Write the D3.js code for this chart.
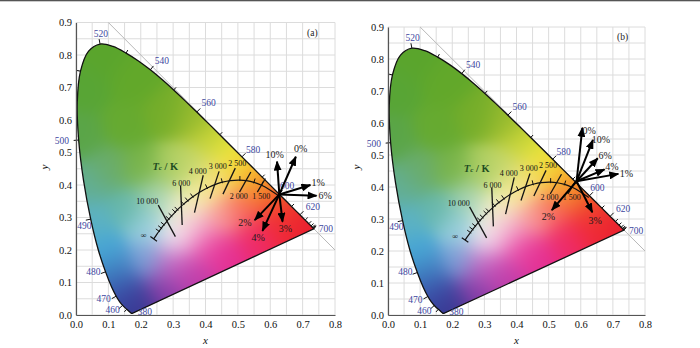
<!DOCTYPE html>
<html><head><meta charset="utf-8">
<script src="https://cdn.jsdelivr.net/npm/d3@7"></script>
<style>body{margin:0;background:#fff}svg{display:block}</style>
</head><body>
<svg id="c" width="700" height="348"></svg>
<script>
// ---- CIE 1931 spectral locus (5 nm) ----
const wavelengths = [380,385,390,395,400,405,410,415,420,425,430,435,440,445,450,455,460,465,470,475,480,485,490,495,500,505,510,515,520,525,530,535,540,545,550,555,560,565,570,575,580,585,590,595,600,605,610,615,620,625,630,635,640,645,650,655,660,665,670,680,690,700];
const locusX = [0.1741,0.1740,0.1738,0.1736,0.1733,0.1730,0.1726,0.1721,0.1714,0.1703,0.1689,0.1669,0.1644,0.1611,0.1566,0.1510,0.1440,0.1355,0.1241,0.1096,0.0913,0.0687,0.0454,0.0235,0.0082,0.0039,0.0139,0.0389,0.0743,0.1142,0.1547,0.1929,0.2296,0.2658,0.3016,0.3373,0.3731,0.4087,0.4441,0.4788,0.5125,0.5448,0.5752,0.6029,0.6270,0.6482,0.6658,0.6801,0.6915,0.7006,0.7079,0.7140,0.7190,0.7230,0.7260,0.7283,0.7300,0.7311,0.7320,0.7334,0.7344,0.7347];
const locusY = [0.0050,0.0050,0.0049,0.0049,0.0048,0.0048,0.0048,0.0048,0.0051,0.0058,0.0069,0.0086,0.0109,0.0138,0.0177,0.0227,0.0297,0.0399,0.0578,0.0868,0.1327,0.2007,0.2950,0.4127,0.5384,0.6548,0.7502,0.8120,0.8338,0.8262,0.8059,0.7816,0.7543,0.7243,0.6923,0.6589,0.6245,0.5896,0.5547,0.5202,0.4866,0.4544,0.4242,0.3965,0.3725,0.3514,0.3340,0.3197,0.3083,0.2993,0.2920,0.2859,0.2809,0.2770,0.2740,0.2717,0.2700,0.2689,0.2680,0.2666,0.2656,0.2653];
const tickWavelengths = [450,460,470,480,490,500,510,520,530,540,550,560,570,580,590,600,610,620,630,640,650,660,670,680,690,700];
const labelWavelengths = [380,460,470,480,490,500,520,540,560,580,600,620,700];
const wlLabelX = [0.213,0.113,0.085,0.054,0.026,-0.044,0.077,0.265,0.41,0.547,0.652,0.732,0.772];
const wlLabelY = [0.008,0.014,0.048,0.133,0.275,0.535,0.865,0.781,0.651,0.509,0.398,0.331,0.264];

// ---- Planckian locus ----
const planckT = [1200,1500,1600,1800,2000,2200,2500,2800,3000,3500,4000,4500,5000,5500,6000,6500,7000,8000,9000,10000,12000,15000,20000,30000,Infinity];
const planckX = [0.6250,0.5857,0.5732,0.5496,0.5267,0.5062,0.4770,0.4517,0.4369,0.4053,0.3805,0.3608,0.3451,0.3325,0.3221,0.3135,0.3064,0.2952,0.2869,0.2807,0.2719,0.2637,0.2565,0.2501,0.2399];
const planckY = [0.3674,0.3931,0.3993,0.4081,0.4133,0.4152,0.4137,0.4086,0.4041,0.3907,0.3768,0.3636,0.3516,0.3411,0.3318,0.3237,0.3166,0.3048,0.2956,0.2884,0.2778,0.2673,0.2577,0.2489,0.2342];
const planckTickT = [1600,1800,2200,2800,3500,4500,5000,5500,6500,7000,8000,9000,12000,15000,20000];

// ---- isotemperature lines ----
const isoLabels = ["10 000","6 000","4 000","3 000","2 500","2 000","1 500"];
const isoX1 = [0.254,0.323,0.393,0.442,0.492,0.540,0.585];
const isoY1 = [0.338,0.398,0.430,0.442,0.452,0.440,0.420];
const isoX2 = [0.307,0.328,0.366,0.414,0.454,0.505,0.560];
const isoY2 = [0.241,0.277,0.315,0.358,0.372,0.378,0.378];
const isoLabelX = [0.22,0.325,0.376,0.438,0.498,0.503,0.572];
const isoLabelY = [0.35,0.406,0.441,0.457,0.466,0.366,0.366];

// ---- axis ticks ----
const xTicks = [0,0.1,0.2,0.3,0.4,0.5,0.6,0.7,0.8];
const yTicks = [0,0.1,0.2,0.3,0.4,0.5,0.6,0.7,0.8,0.9];

// ---- arrows, panel (a) ----
const arrowLabelsA = ["10%","0%","1%","6%","3%","4%","2%"];
const arrowOriginA = [0.628,0.371];
const arrowTipXA = [0.621,0.679,0.724,0.743,0.638,0.576,0.552];
const arrowTipYA = [0.472,0.487,0.400,0.367,0.287,0.259,0.292];
const arrowLabXA = [0.614,0.694,0.748,0.770,0.647,0.563,0.522];
const arrowLabYA = [0.495,0.513,0.408,0.367,0.267,0.239,0.285];
// ---- arrows, panel (b) ----
const arrowLabelsB = ["0%","10%","6%","4%","1%","2%","3%"];
const arrowOriginB = [0.587,0.418];
const arrowTipXB = [0.605,0.638,0.653,0.674,0.717,0.510,0.636];
const arrowTipYB = [0.585,0.547,0.490,0.455,0.441,0.328,0.321];
const arrowLabXB = [0.626,0.663,0.676,0.697,0.742,0.499,0.645];
const arrowLabYB = [0.578,0.549,0.499,0.463,0.443,0.309,0.295];

// ---- colour anchors for the gamut fill ----
const fillAnchorX = [0.08,0.03,0.18,0.02,0.15,0.28,0.36,0.42,0.48,0.52,0.56,0.60,0.65,0.71,0.62,0.55,0.46,0.36,0.27,0.19,0.15,0.12,0.09,0.05,0.04,0.10,0.20,0.25,0.22,0.31,0.33,0.38,0.44,0.37,0.45,0.52,0.40,0.30,0.22,0.30,0.36,0.16];
const fillAnchorY = [0.80,0.70,0.72,0.55,0.58,0.62,0.60,0.54,0.49,0.45,0.41,0.37,0.33,0.28,0.28,0.24,0.19,0.13,0.08,0.03,0.07,0.13,0.20,0.29,0.40,0.45,0.45,0.36,0.27,0.235,0.32,0.38,0.42,0.265,0.30,0.33,0.21,0.16,0.17,0.45,0.46,0.33];
const fillAnchorC = ["#5aa52c","#58a535","#62a82a","#5aa548","#66aa30","#74ad2a","#98bb2e","#c8d436","#ecea3a","#f6cc30","#f5a028","#f27028","#ee3a2a","#ea2030","#f02838","#ee2a6a","#e42e92","#c03aa8","#8a3ca8","#37358f","#3a4ea8","#3d7ec0","#48a8d6","#5cb2c4","#62ae96","#6aac6a","#78b448","#a8d4b4","#98d0e0","#f8f6f8","#f4f2d0","#f8f0a0","#f8dc78","#f2b8d8","#f89c98","#f86a58","#ec4aa8","#c862c2","#7aa2d8","#a8cc60","#c8d870","#64b6aa"];

const panels = [
  {tag:"(a)", left:76, right:335, top:22.5, bottom:315, labels:arrowLabelsA, origin:arrowOriginA, tx:arrowTipXA, ty:arrowTipYA, lx:arrowLabXA, ly:arrowLabYA},
  {tag:"(b)", left:388, right:645, top:27, bottom:315, labels:arrowLabelsB, origin:arrowOriginB, tx:arrowTipXB, ty:arrowTipYB, lx:arrowLabXB, ly:arrowLabYB}
];

const svg = d3.select("#c");
svg.append("rect").attr("width",700).attr("height",348).attr("fill","#fff");
svg.append("rect").attr("width",700).attr("height",1.3).attr("fill","#555");

const defs = svg.append("defs");
defs.append("marker").attr("id","ah").attr("viewBox","0 0 10 8").attr("refX",9).attr("refY",4)
  .attr("markerWidth",10).attr("markerHeight",8).attr("markerUnits","userSpaceOnUse").attr("orient","auto")
  .append("path").attr("d","M0,0L10,4L0,8Z").attr("fill","#000");

const anchors = fillAnchorC.map((c,i)=>{const r=d3.rgb(c);return {x:fillAnchorX[i],y:fillAnchorY[i],r:r.r,g:r.g,b:r.b};});
const SIG2 = 2*0.045*0.045;

const serif = "'Liberation Serif','Times New Roman',serif";

panels.forEach((p,k)=>{
  const g = svg.append("g");
  const x = d3.scaleLinear().domain([0,0.8]).range([p.left,p.right]);
  const y = d3.scaleLinear().domain([0,0.9]).range([p.bottom,p.top]);

  // grid
  g.append("g").selectAll("line").data(x.ticks(16)).join("line")
    .attr("x1",d=>x(d)).attr("x2",d=>x(d)).attr("y1",p.top).attr("y2",p.bottom)
    .attr("stroke","#dcdcdc").attr("stroke-width",1);
  g.append("g").selectAll("line").data(y.ticks(18)).join("line")
    .attr("y1",d=>y(d)).attr("y2",d=>y(d)).attr("x1",p.left).attr("x2",p.right)
    .attr("stroke","#dcdcdc").attr("stroke-width",1);

  // diagonal x+y=1
  g.append("line").attr("x1",x(0.1)).attr("y1",y(0.9)).attr("x2",x(0.8)).attr("y2",y(0.2))
    .attr("stroke","#b8b8b8").attr("stroke-width",1);

  // locus path
  const pts = wavelengths.map((w,i)=>[locusX[i],locusY[i]]);
  const locusD = d3.line().x(d=>x(d[0])).y(d=>y(d[1])).curve(d3.curveCatmullRom)(pts) + "Z";
  defs.append("clipPath").attr("id","clip"+k).append("path").attr("d",locusD);

  // fill image
  const W = Math.ceil(p.right-p.left), H = Math.ceil(p.bottom-p.top);
  const cv = document.createElement("canvas"); cv.width=W; cv.height=H;
  const ctx = cv.getContext("2d"); const img = ctx.createImageData(W,H);
  for(let j=0;j<H;j++){
    const dy = y.invert(p.top+j+0.5);
    for(let i=0;i<W;i++){
      const dx = x.invert(p.left+i+0.5);
      let sw=0,sr=0,sg=0,sb=0;
      for(const a of anchors){
        const d2=(dx-a.x)*(dx-a.x)+(dy-a.y)*(dy-a.y);
        const w=Math.exp(-d2/SIG2)+1e-30;
        sw+=w; sr+=w*a.r; sg+=w*a.g; sb+=w*a.b;
      }
      const o=(j*W+i)*4;
      img.data[o]=sr/sw; img.data[o+1]=sg/sw; img.data[o+2]=sb/sw; img.data[o+3]=255;
    }
  }
  ctx.putImageData(img,0,0);
  g.append("image").attr("href",cv.toDataURL()).attr("x",p.left).attr("y",p.top)
    .attr("width",W).attr("height",H).attr("preserveAspectRatio","none").attr("clip-path",`url(#clip${k})`);

  g.append("path").attr("d",locusD).attr("fill","none").attr("stroke","#111").attr("stroke-width",1.3);

  // spectral ticks
  const wc = [x(0.33),y(0.33)];
  function normalAt(idx){
    const a = pts[Math.max(0,idx-1)], b = pts[Math.min(pts.length-1,idx+1)];
    let tx = x(b[0])-x(a[0]), ty = y(b[1])-y(a[1]); const L=Math.hypot(tx,ty); tx/=L; ty/=L;
    let nx=-ty, ny=tx;
    const px=x(pts[idx][0]), py=y(pts[idx][1]);
    if(nx*(px-wc[0])+ny*(py-wc[1])<0){nx=-nx;ny=-ny;}
    return [px,py,nx,ny];
  }
  g.append("g").selectAll("line").data(tickWavelengths.filter(w=>w!==700)).join("line")
    .each(function(w){
      const [px,py,nx,ny]=normalAt(wavelengths.indexOf(w));
      const len = labelWavelengths.includes(w)?5:3.5;
      d3.select(this).attr("x1",px).attr("y1",py).attr("x2",px+nx*len).attr("y2",py+ny*len);
    }).attr("stroke","#111").attr("stroke-width",1);
  g.append("g").selectAll("text").data(labelWavelengths).join("text")
    .attr("x",(w,i)=>x(wlLabelX[i])).attr("y",(w,i)=>y(wlLabelY[i]))
    .attr("text-anchor","middle").attr("dominant-baseline","central")
    .attr("font-family",serif).attr("font-size",9.5).attr("fill","#3d47a0").text(w=>w);

  // Planckian locus
  const ppts = planckT.map((t,i)=>[planckX[i],planckY[i]]);
  g.append("path").attr("d",d3.line().x(d=>x(d[0])).y(d=>y(d[1])).curve(d3.curveCatmullRom)(ppts))
    .attr("fill","none").attr("stroke","#111").attr("stroke-width",1.2);
  function pNormal(idx){
    const a = ppts[Math.max(0,idx-1)], b = ppts[Math.min(ppts.length-1,idx+1)];
    let tx = x(b[0])-x(a[0]), ty = y(b[1])-y(a[1]); const L=Math.hypot(tx,ty); tx/=L; ty/=L;
    let nx=ty, ny=-tx; if(ny>0){nx=-nx;ny=-ny;}
    return [x(ppts[idx][0]),y(ppts[idx][1]),nx,ny];
  }
  g.append("g").selectAll("line").data(planckTickT).join("line")
    .each(function(t){
      const [px,py,nx,ny]=pNormal(planckT.indexOf(t));
      d3.select(this).attr("x1",px-nx*1).attr("y1",py-ny*1).attr("x2",px+nx*4).attr("y2",py+ny*4);
    }).attr("stroke","#111").attr("stroke-width",1);
  {
    const [px,py,nx,ny]=pNormal(ppts.length-1);
    g.append("line").attr("x1",px-nx*4).attr("y1",py-ny*4).attr("x2",px+nx*4).attr("y2",py+ny*4)
      .attr("stroke","#111").attr("stroke-width",1.2);
  }
  // isotemperature lines
  g.append("g").selectAll("line").data(isoLabels).join("line")
    .attr("x1",(d,i)=>x(isoX1[i])).attr("y1",(d,i)=>y(isoY1[i]))
    .attr("x2",(d,i)=>x(isoX2[i])).attr("y2",(d,i)=>y(isoY2[i]))
    .attr("stroke","#151515").attr("stroke-width",1.3);
  g.append("g").selectAll("text").data(isoLabels).join("text")
    .attr("x",(d,i)=>x(isoLabelX[i])).attr("y",(d,i)=>y(isoLabelY[i]))
    .attr("text-anchor","middle").attr("dominant-baseline","central")
    .attr("font-family",serif).attr("font-size",8).attr("fill","#111").text(d=>d);
  g.append("text").attr("x",x(0.209)).attr("y",y(0.245)).attr("text-anchor","middle").attr("dominant-baseline","central")
    .attr("font-family",serif).attr("font-size",8).attr("fill","#111").text("∞");
  const tc = g.append("text").attr("x",x(0.276)).attr("y",y(0.46)).attr("text-anchor","middle").attr("dominant-baseline","central")
    .attr("font-family",serif).attr("font-size",10.5).attr("font-weight","bold").attr("fill","#1f4d22");
  tc.append("tspan").attr("font-style","italic").text("T");
  tc.append("tspan").attr("font-style","italic").attr("font-size",7).attr("dy",2).text("c");
  tc.append("tspan").attr("dy",-2).text(" / K");

  // arrows
  const ox = x(p.origin[0]), oy = y(p.origin[1]);
  g.append("g").selectAll("line").data(p.labels).join("line")
    .attr("x1",ox).attr("y1",oy).attr("x2",(d,i)=>x(p.tx[i])).attr("y2",(d,i)=>y(p.ty[i]))
    .attr("stroke","#000").attr("stroke-width",2).attr("marker-end","url(#ah)");
  g.append("g").selectAll("text").data(p.labels).join("text")
    .attr("x",(d,i)=>x(p.lx[i])).attr("y",(d,i)=>y(p.ly[i]))
    .attr("text-anchor","middle").attr("dominant-baseline","central")
    .attr("font-family",serif).attr("font-size",10).attr("fill","#1a1a1a").text(d=>d);

  // axes
  const ax = g.append("g").attr("transform",`translate(0,${p.bottom})`)
    .call(d3.axisBottom(x).tickValues(xTicks).tickFormat(d3.format(".1f")).tickSize(0).tickPadding(5.5));
  const ay = g.append("g").attr("transform",`translate(${p.left},0)`)
    .call(d3.axisLeft(y).tickValues(yTicks).tickFormat(d3.format(".1f")).tickSize(0).tickPadding(4));
  [ax,ay].forEach(a=>{
    a.select(".domain").attr("stroke","#555").attr("stroke-width",1.2);
    a.selectAll("text").attr("font-family",serif).attr("font-size",10.5).attr("fill","#111");
  });
  g.append("text").attr("x",(p.left+p.right)/2).attr("y",344).attr("text-anchor","middle")
    .attr("font-family",serif).attr("font-style","italic").attr("font-size",11).attr("fill","#111").text("x");
  g.append("text").attr("transform",`translate(${p.left-28},167) rotate(-90)`).attr("text-anchor","middle")
    .attr("font-family",serif).attr("font-style","italic").attr("font-size",11).attr("fill","#111").text("y");
  g.append("text").attr("x",x(0.73)).attr("y",y(0.868)).attr("text-anchor","middle").attr("dominant-baseline","central")
    .attr("font-family",serif).attr("font-size",9.5).attr("fill","#222").text(p.tag);
});
</script>
</body></html>
